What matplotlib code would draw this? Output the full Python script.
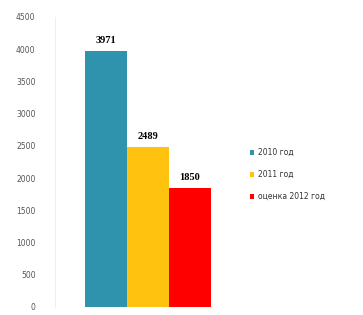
import matplotlib.pyplot as plt

years = ['2010 год', '2011 год', 'оценка 2012 год']
values = [3971, 2489, 1850]
colors = ['#2f93ad', '#ffc20e', '#ff0000']
yticks = list(range(0, 5000, 500))

fig = plt.figure(figsize=(3.63, 3.15), dpi=100)
ax = fig.add_axes([55 / 363, 8 / 315, 185 / 363, 290 / 315])

bars = ax.bar([0, 1, 2], values, width=1.0, color=colors, label=years)
for x, v in zip([0, 1, 2], values):
    ax.text(x, v + 90, str(v), ha='center', va='bottom', fontsize=7.5,
            fontweight='bold', family='Liberation Serif')

ax.set_xlim(-1.21, 3.2)
ax.set_ylim(0, 4500)
ax.set_yticks(yticks)
ax.set_yticklabels([str(t) for t in yticks], fontsize=5.5, color='#555555')
ax.tick_params(axis='y', length=0, pad=14)
ax.set_xticks([])
for s in ['top', 'right', 'bottom']:
    ax.spines[s].set_visible(False)
ax.spines['left'].set_color('#eeeeee')

fig.legend(handles=bars, labels=years, loc='upper left',
           bbox_to_anchor=(243 / 363, 1 - 141 / 315), frameon=False,
           fontsize=5.5, handlelength=0.6, handleheight=0.6,
           labelspacing=1.7, handletextpad=0.4, labelcolor='#333333')

fig.savefig('out.png', dpi=100)
